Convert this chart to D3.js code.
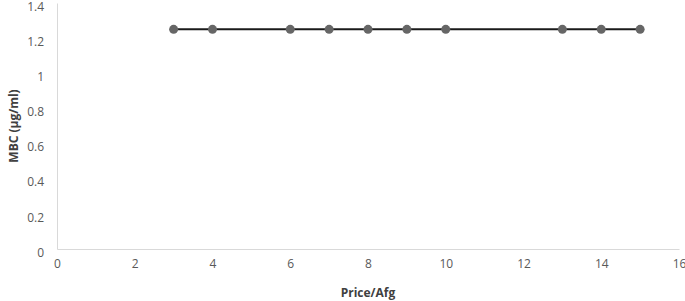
<!DOCTYPE html>
<html>
<head>
<meta charset="utf-8">
<script src="https://cdn.jsdelivr.net/npm/d3@7"></script>
<style>
  body { margin: 0; background: #fff; }
  text { font-family: "Open Sans", "Liberation Sans", sans-serif; }
</style>
</head>
<body>
<div id="chart"></div>
<script>
var priceValues = [3, 4, 6, 7, 8, 9, 10, 13, 14, 15];
var mbcValues = [1.25, 1.25, 1.25, 1.25, 1.25, 1.25, 1.25, 1.25, 1.25, 1.25];
var xTicks = [0, 2, 4, 6, 8, 10, 12, 14, 16];
var yTicks = [0, 0.2, 0.4, 0.6, 0.8, 1, 1.2, 1.4];

var svgWidth = 685, svgHeight = 301;
var margin = {top: 3, left: 57, right: 6, bottom: 52};
var width = svgWidth - margin.left - margin.right;
var height = svgHeight - margin.top - margin.bottom;

var svg = d3.select("#chart").append("svg").attr("width", svgWidth).attr("height", svgHeight);
var chartGroup = svg.append("g").attr("transform", `translate(${margin.left},${margin.top})`);

var xScale = d3.scaleLinear().domain([0, 16]).range([0, width]);
var yScale = d3.scaleLinear().domain([0, 1.4]).range([height, 0]);

var xAxis = chartGroup.append("g").attr("transform", `translate(0,${height})`)
    .call(d3.axisBottom(xScale).tickValues(xTicks).tickSize(0).tickPadding(10).tickFormat(d3.format("")));
var yAxis = chartGroup.append("g")
    .call(d3.axisLeft(yScale).tickValues(yTicks).tickSize(0).tickPadding(13).tickFormat(d3.format("")));

[xAxis, yAxis].forEach(function(ax) {
    ax.select(".domain").attr("stroke", "#d9d9d9").attr("stroke-width", 1);
    ax.selectAll("text").attr("font-size", "12px").attr("fill", "#595959");
});
yAxis.selectAll("text").attr("dy", "0.6em");

var line = d3.line().x(function(d, i) { return xScale(priceValues[i]); }).y(function(d) { return yScale(d); });
chartGroup.append("path").datum(mbcValues).attr("d", line)
    .attr("fill", "none").attr("stroke", "#1a1a1a").attr("stroke-width", 2);

chartGroup.selectAll("circle").data(mbcValues).enter().append("circle")
    .attr("cx", function(d, i) { return xScale(priceValues[i]); })
    .attr("cy", function(d) { return yScale(d); })
    .attr("r", 4.5).attr("fill", "#666666");

svg.append("text").attr("x", margin.left + width / 2).attr("y", 297)
    .attr("text-anchor", "middle").attr("font-size", "12px").attr("font-weight", "bold").attr("fill", "#404040")
    .text("Price/Afg");

svg.append("text").attr("transform", `translate(18,${margin.top + height / 2}) rotate(-90)`)
    .attr("text-anchor", "middle").attr("font-size", "12px").attr("font-weight", "bold").attr("fill", "#404040")
    .text("MBC (µg/ml)");
</script>
</body>
</html>
